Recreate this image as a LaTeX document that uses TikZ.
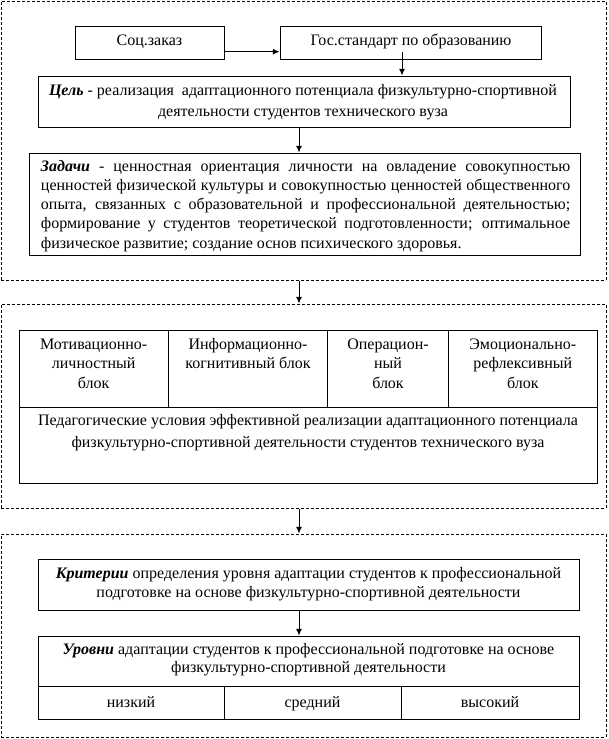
\documentclass[tikz,border=0pt]{standalone}
\usepackage{fontspec}
\setmainfont{Liberation Serif}
\usetikzlibrary{fit,arrows.meta}
\begin{document}
\begin{tikzpicture}[x=0.75pt,y=-0.75pt,
  box/.style={draw,line width=0.75pt,inner sep=0pt,rectangle},
  dbox/.style={draw,line width=0.75pt,inner sep=0pt,rectangle,dash pattern=on 2.25pt off 1.5pt},
  txt/.style={inner sep=0pt,text height=8.5pt,text depth=2.5pt,font=\fontsize{12}{14}\selectfont},
  arr/.style={line width=0.75pt,-{Latex[length=5pt,width=4.5pt]}}]
\useasboundingbox (0,0) rectangle (608,739);
% outer dashed groups
\node[dbox,fit={(1,1) (606,280)}] (g1) {};
\node[dbox,fit={(1,304) (606,508)}] (g2) {};
\node[dbox,fit={(1,534) (606,737)}] (g3) {};
% group 1
\node[box,fit={(75,26) (224,59)}] (soc) {};
\node[box,fit={(280,26) (541,59)}] (gos) {};
\node[box,fit={(38,76) (570,127)}] (cel) {};
\node[box,fit={(29,153) (580,255)}] (zad) {};
\node[txt] (tsoc) at (149.5,41.7) {Соц.заказ};
\node[txt] (tgos) at (411,41.7) {Гос.стандарт по образованию};
\node[txt] (tcel1) at (303,91.7) {\textbf{\textit{Цель}} - реализация\ \ адаптационного потенциала физкультурно-спортивной};
\node[txt] (tcel2) at (303,112.7) {деятельности студентов технического вуза};
\node[txt,anchor=west] (tzad1) at (40.7,167) {\makebox[397pt][s]{\textbf{\textit{Задачи}} - ценностная ориентация личности на овладение совокупностью}};
\node[txt,anchor=west] (tzad2) at (40.7,186.5) {\makebox[397pt][s]{ценностей физической культуры и совокупностью ценностей общественного}};
\node[txt,anchor=west] (tzad3) at (40.7,205.7) {\makebox[397pt][s]{опыта, связанных с образовательной и профессиональной деятельностью;}};
\node[txt,anchor=west] (tzad4) at (40.7,224.7) {\makebox[397pt][s]{формирование у студентов теоретической подготовленности; оптимальное}};
\node[txt,anchor=west] (tzad5) at (40.7,244) {физическое развитие; создание основ психического здоровья.};
% group 2
\node[box,fit={(19,330.7) (168.3,407)}] (c1) {};
\node[box,fit={(168.3,330.7) (327.7,407)}] (c2) {};
\node[box,fit={(327.7,330.7) (448.6,407)}] (c3) {};
\node[box,fit={(448.6,330.7) (597,407)}] (c4) {};
\node[box,fit={(19,407) (597,483)}] (ped) {};
\node[txt] (tc11) at (93.7,345) {Мотивационно-};
\node[txt] (tc12) at (93.7,364.5) {личностный};
\node[txt] (tc13) at (93.7,384) {блок};
\node[txt] (tc21) at (248,345) {Информационно-};
\node[txt] (tc22) at (248,364.5) {когнитивный блок};
\node[txt] (tc31) at (388,345) {Операцион-};
\node[txt] (tc32) at (388,364.5) {ный};
\node[txt] (tc33) at (388,384) {блок};
\node[txt] (tc41) at (522.8,345) {Эмоционально-};
\node[txt] (tc42) at (522.8,364.5) {рефлексивный};
\node[txt] (tc43) at (522.8,384) {блок};
\node[txt] (tped1) at (308,421.7) {Педагогические условия эффективной реализации адаптационного потенциала};
\node[txt] (tped2) at (308,443) {физкультурно-спортивной деятельности студентов технического вуза};
% group 3
\node[box,fit={(38,559) (579,610)}] (krit) {};
\node[box,fit={(38,636) (579,686)}] (urov) {};
\node[box,fit={(38,686) (224,719)}] (low) {};
\node[box,fit={(224,686) (401,719)}] (mid) {};
\node[box,fit={(401,686) (579,719)}] (high) {};
\node[txt] (tkrit1) at (308.5,574.3) {\textbf{\textit{Критерии}} определения уровня адаптации студентов к профессиональной};
\node[txt] (tkrit2) at (308.5,593.3) {подготовке на основе физкультурно-спортивной деятельности};
\node[txt] (turov1) at (308.5,650.7) {\textbf{\textit{Уровни}} адаптации студентов к профессиональной подготовке на основе};
\node[txt] (turov2) at (308.5,668.3) {физкультурно-спортивной деятельности};
\node[txt] (tlow) at (131,703) {низкий};
\node[txt] (tmid) at (312.5,703) {средний};
\node[txt] (thigh) at (490,703) {высокий};
% connectors
\coordinate (a1) at (224,51.7);
\coordinate (a2) at (402,51.7);
\coordinate (ax) at (299,0);
\draw[arr] (soc.east |- a1) -- (gos.west |- a1);
\draw[arr] (a2) -- (a2 |- cel.north);
\draw[arr] (cel.south -| ax) -- (zad.north -| ax);
\draw[arr] (g1.south -| ax) -- (g2.north -| ax);
\draw[arr] (g2.south -| ax) -- (g3.north -| ax);
\draw[arr] (krit.south -| ax) -- (urov.north -| ax);
\end{tikzpicture}
\end{document}
